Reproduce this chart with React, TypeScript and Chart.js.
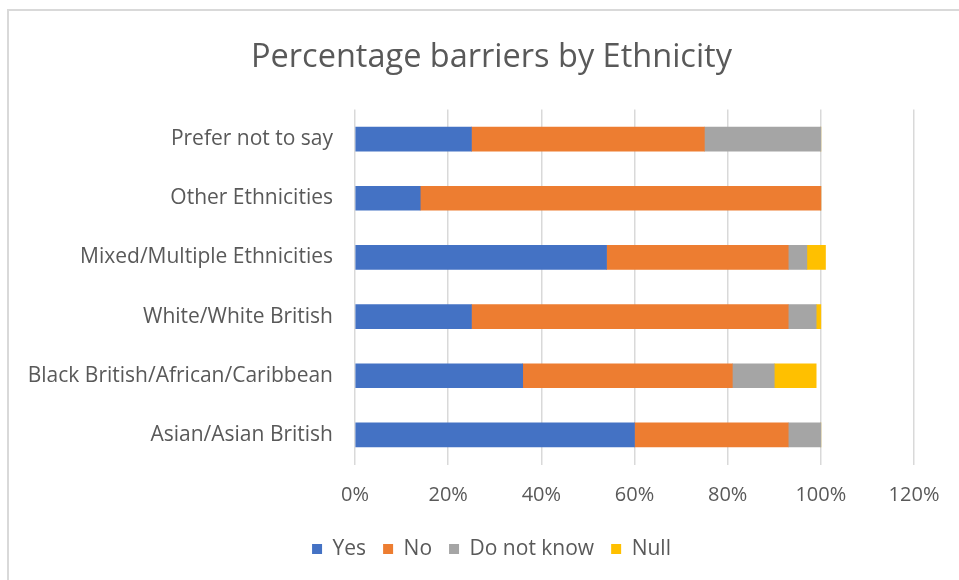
import React, { useEffect, useRef } from "react";
import { Chart, registerables } from "chart.js";

Chart.register(...registerables);

const categories = [
  "Prefer not to say",
  "Other Ethnicities",
  "Mixed/Multiple Ethnicities",
  "White/White British",
  "Black British/African/Caribbean",
  "Asian/Asian British",
];

const seriesNames = ["Yes", "No", "Do not know", "Null"];
const yesValues = [25, 14, 54, 25, 36, 60];
const noValues = [50, 86, 39, 68, 45, 33];
const dontKnowValues = [25, 0, 4, 6, 9, 7];
const nullValues = [0, 0, 4, 1, 9, 0];
const seriesColors = ["#4472C4", "#ED7D31", "#A5A5A5", "#FFC000"];

const xMin = 0;
const xMax = 120;
const xStep = 20;
const titleText = "Percentage barriers by Ethnicity";

const FONT = "'Open Sans', sans-serif";
const TEXT = "#595959";

const borderPlugin = {
  id: "frameBorder",
  beforeDraw(chart: any) {
    const ctx = chart.ctx;
    ctx.save();
    ctx.fillStyle = "#ffffff";
    ctx.fillRect(0, 0, chart.width, chart.height);
    ctx.strokeStyle = "#d9d9d9";
    ctx.lineWidth = 2;
    ctx.beginPath();
    ctx.moveTo(8, chart.height);
    ctx.lineTo(8, 10);
    ctx.lineTo(chart.width, 10);
    ctx.stroke();
    ctx.restore();
  },
};

export default function App() {
  const canvasRef = useRef<HTMLCanvasElement | null>(null);

  useEffect(() => {
    if (!canvasRef.current) return;
    const valueSets = [yesValues, noValues, dontKnowValues, nullValues];
    const chart = new Chart(canvasRef.current, {
      type: "bar",
      data: {
        labels: categories,
        datasets: seriesNames.map((name, i) => ({
          label: name,
          data: valueSets[i],
          backgroundColor: seriesColors[i],
          borderWidth: 0,
          barThickness: 24,
          xAxisID: "x",
          yAxisID: "y",
        })),
      },
      options: {
        indexAxis: "y",
        responsive: false,
        animation: false,
        maintainAspectRatio: false,
        layout: { padding: { left: 24, right: 0, top: 0, bottom: 10.5 } },
        plugins: {
          title: {
            display: true,
            text: titleText,
            color: TEXT,
            font: { family: FONT, size: 32.5, weight: "normal", lineHeight: 1.2 },
            padding: { top: 38, bottom: 32.5 },
          },
          legend: {
            position: "bottom",
            labels: {
              color: TEXT,
              font: { family: FONT, size: 21 },
              boxWidth: 10,
              boxHeight: 10,
              padding: 17,
            },
          },
          tooltip: { enabled: false },
        },
        scales: {
          x: {
            stacked: true,
            min: xMin,
            max: xMax,
            ticks: {
              stepSize: xStep,
              color: TEXT,
              font: { family: FONT, size: 20, lineHeight: 1.2 },
              padding: 19,
              callback: (v: any) => v + "%",
            },
            grid: { color: "#d9d9d9", lineWidth: 1.5, drawTicks: false },
            border: { display: false },
            afterFit: (scale: any) => {
              scale.height = 57;
            },
          },
          y: {
            stacked: true,
            ticks: {
              color: TEXT,
              font: { family: FONT, size: 21 },
              padding: 22,
            },
            grid: { display: false, drawTicks: false },
            border: { display: false },
            afterFit: (scale: any) => {
              scale.width = 331;
            },
          },
          yRight: {
            type: "linear",
            position: "right",
            display: true,
            ticks: { display: false },
            grid: { display: false, drawTicks: false },
            border: { display: false },
            afterFit: (scale: any) => {
              scale.width = 45;
            },
          },
        },
      },
      plugins: [borderPlugin],
    });
    return () => chart.destroy();
  }, []);

  return (
    <div style={{ position: "absolute", left: 0, top: 0, width: 959, height: 580 }}>
      <canvas ref={canvasRef} width={959} height={580} style={{ display: "block" }} />
    </div>
  );
}
